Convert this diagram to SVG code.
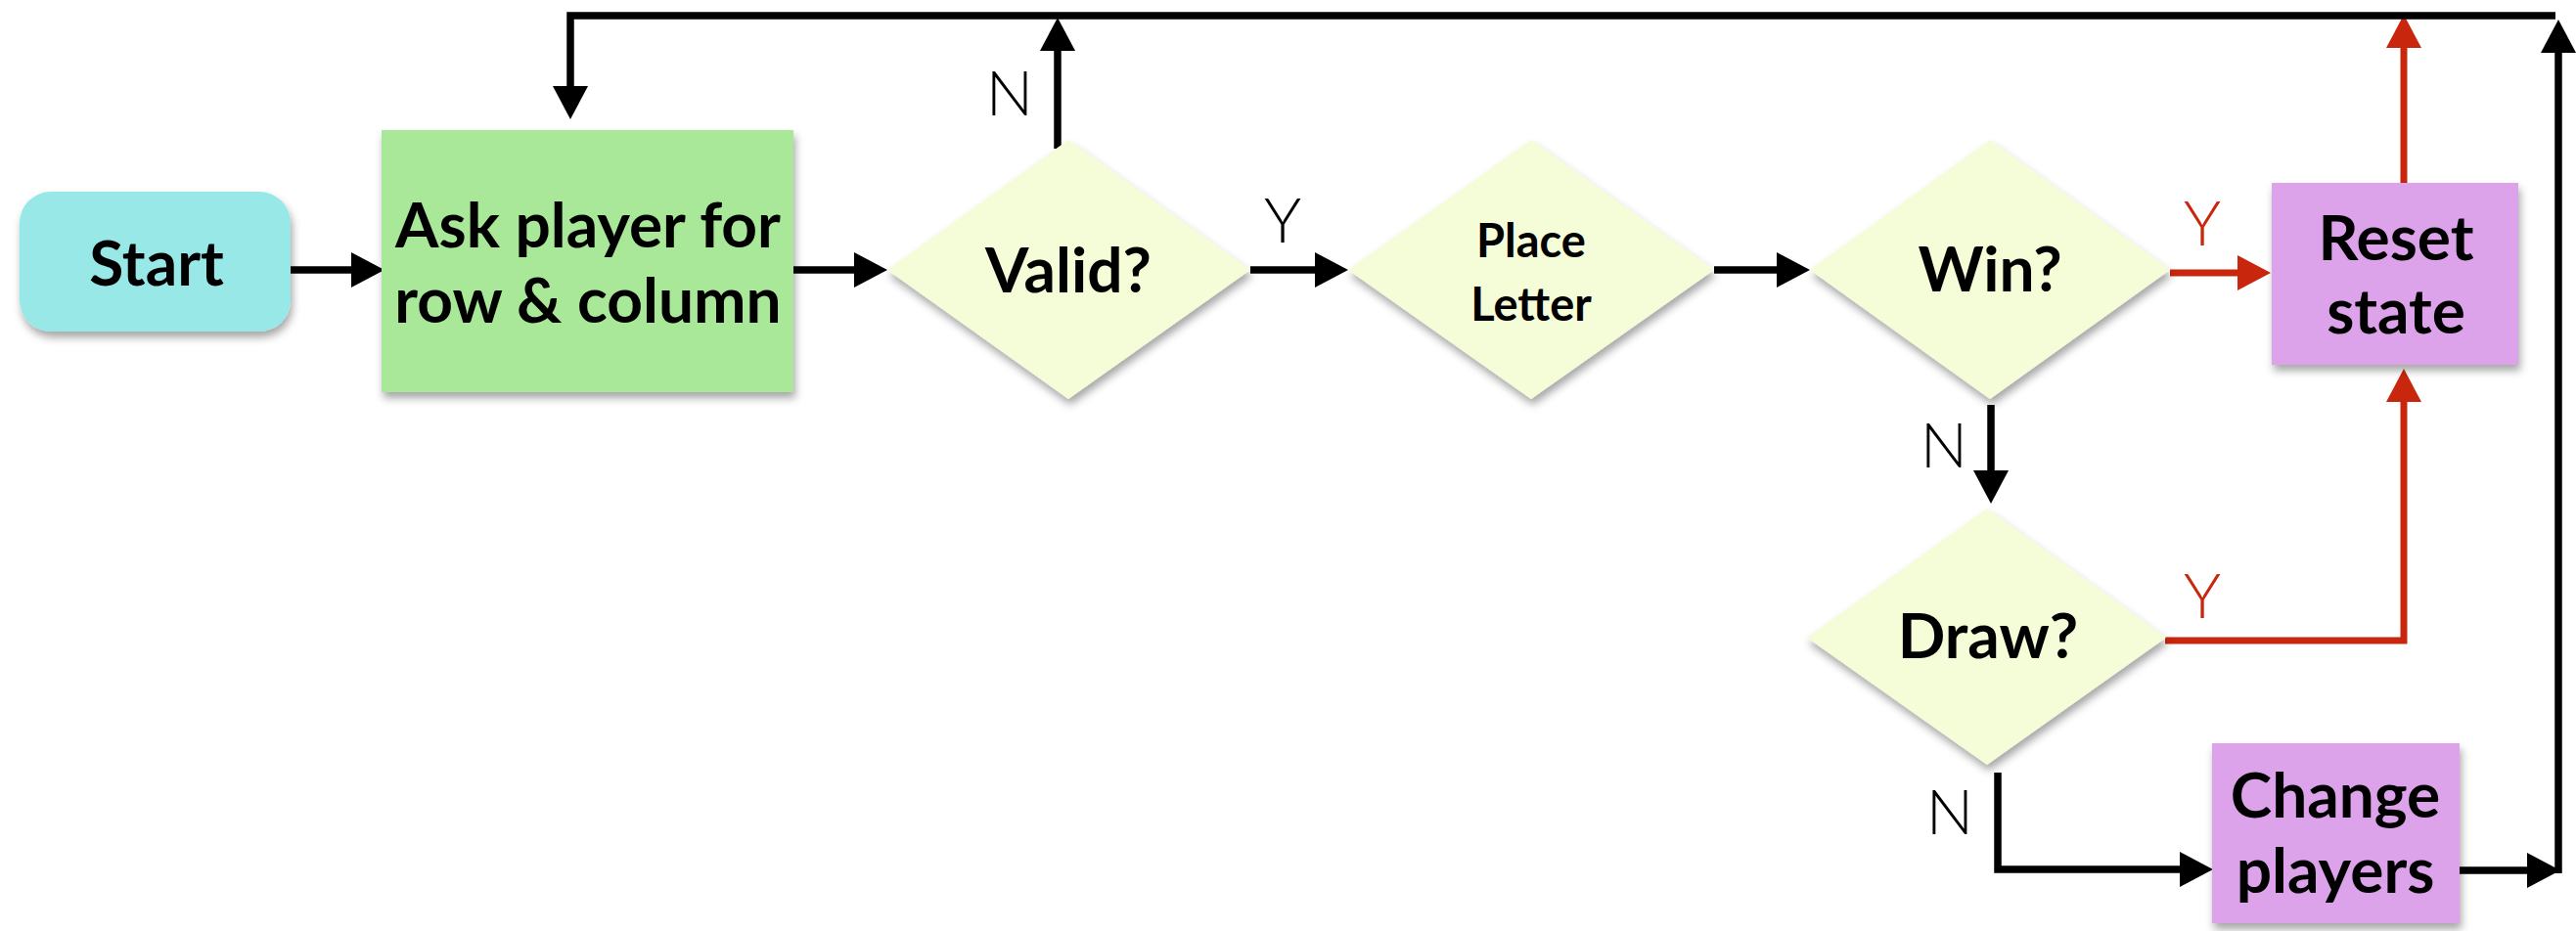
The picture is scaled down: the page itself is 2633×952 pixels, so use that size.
<svg xmlns="http://www.w3.org/2000/svg" width="2633" height="952" viewBox="0 0 2633 952">
  <defs>
    <filter id="shadow" x="-10%" y="-10%" width="130%" height="130%">
      <feDropShadow dx="2" dy="6" stdDeviation="4" flood-color="#000" flood-opacity="0.35"/>
    </filter>
    <marker id="ah" markerUnits="userSpaceOnUse" markerWidth="34" markerHeight="36" refX="14" refY="18" orient="auto">
      <path d="M0,0 L34,18 L0,36 z" fill="#000"/>
    </marker>
    <marker id="ahr" markerUnits="userSpaceOnUse" markerWidth="34" markerHeight="36" refX="14" refY="18" orient="auto">
      <path d="M0,0 L34,18 L0,36 z" fill="#c8260d"/>
    </marker>
    <style>
      .lbl { font-family: Lato, "Liberation Sans", sans-serif; font-weight: 700; fill: #000; text-anchor: middle; }
      .big { font-size: 64px; }
      .small { font-size: 47px; }
      .yn { font-family: Lato, "Liberation Sans", sans-serif; font-weight: 300; font-size: 64px; text-anchor: middle; }
      .k { fill: #000; }
      .r { fill: #c8260d; }
      .ln { fill: none; stroke: #000; stroke-width: 7.5; stroke-linejoin: miter; marker-end: url(#ah); }
      .lnr { fill: none; stroke: #c8260d; stroke-width: 7; stroke-linejoin: miter; marker-end: url(#ahr); }
      .dia { fill: #f5fcd8; filter: url(#shadow); }
      .proc { fill: #dca2ea; filter: url(#shadow); }
    </style>
  </defs>

  <!-- connectors -->
  <g id="connectors">
    <path class="ln" d="M297,276 H373"/>
    <path class="ln" d="M811,276 H887"/>
    <path class="ln" d="M1081,152 V38"/>
    <path class="ln" d="M1278,276 H1358"/>
    <path class="ln" d="M1752,276 H1830"/>
    <path class="lnr" d="M2218,279 H2301"/>
    <path class="lnr" d="M2457,187 V35"/>
    <path class="ln" d="M2035,414 V495"/>
    <path class="lnr" d="M2213,655 H2457 V397"/>
    <path class="ln" d="M2042,790 V889 H2242"/>
    <path class="ln" d="M2514,890 H2597"/>
    <path class="ln" d="M2615,893 V40"/>
    <path class="ln" d="M2612,16 H583 V102"/>
  </g>

  <!-- edge labels -->
  <g id="edge-labels">
    <text class="yn k" x="1032" y="118">N</text>
    <text class="yn k" x="1311" y="248">Y</text>
    <text class="yn r" x="2251" y="251">Y</text>
    <text class="yn k" x="1987" y="478">N</text>
    <text class="yn r" x="2251" y="632">Y</text>
    <text class="yn k" x="1993" y="853">N</text>
  </g>

  <g id="start">
    <rect x="20" y="196" width="277" height="143" rx="32" fill="#98e8e8" filter="url(#shadow)"/>
    <text class="lbl big" x="160" y="292">Start</text>
  </g>

  <g id="ask">
    <rect x="390" y="133" width="421" height="268" fill="#a8e898" filter="url(#shadow)"/>
    <text class="lbl big" x="601" y="253">Ask player for</text>
    <text class="lbl big" x="601" y="330">row &amp; column</text>
  </g>

  <g id="valid">
    <polygon class="dia" points="907,276 1092,143 1278,276 1092,408"/>
    <text class="lbl big" x="1092" y="299">Valid?</text>
  </g>

  <g id="place">
    <polygon class="dia" points="1378,276 1565,143 1752,276 1565,408"/>
    <text class="lbl small" x="1565" y="263">Place</text>
    <text class="lbl small" x="1565" y="328">Letter</text>
  </g>

  <g id="win">
    <polygon class="dia" points="1850,276 2034,143 2218,276 2034,408"/>
    <text class="lbl big" x="2034" y="298">Win?</text>
  </g>

  <g id="reset">
    <rect class="proc" x="2322" y="187" width="252" height="186"/>
    <text class="lbl big" x="2449" y="266">Reset</text>
    <text class="lbl big" x="2449" y="341">state</text>
  </g>

  <g id="draw">
    <polygon class="dia" points="1847,652 2031,520 2214,652 2031,782"/>
    <text class="lbl big" x="2032" y="673">Draw?</text>
  </g>

  <g id="change">
    <rect class="proc" x="2261" y="760" width="253" height="184"/>
    <text class="lbl big" x="2387" y="836">Change</text>
    <text class="lbl big" x="2387" y="913">players</text>
  </g>
</svg>
